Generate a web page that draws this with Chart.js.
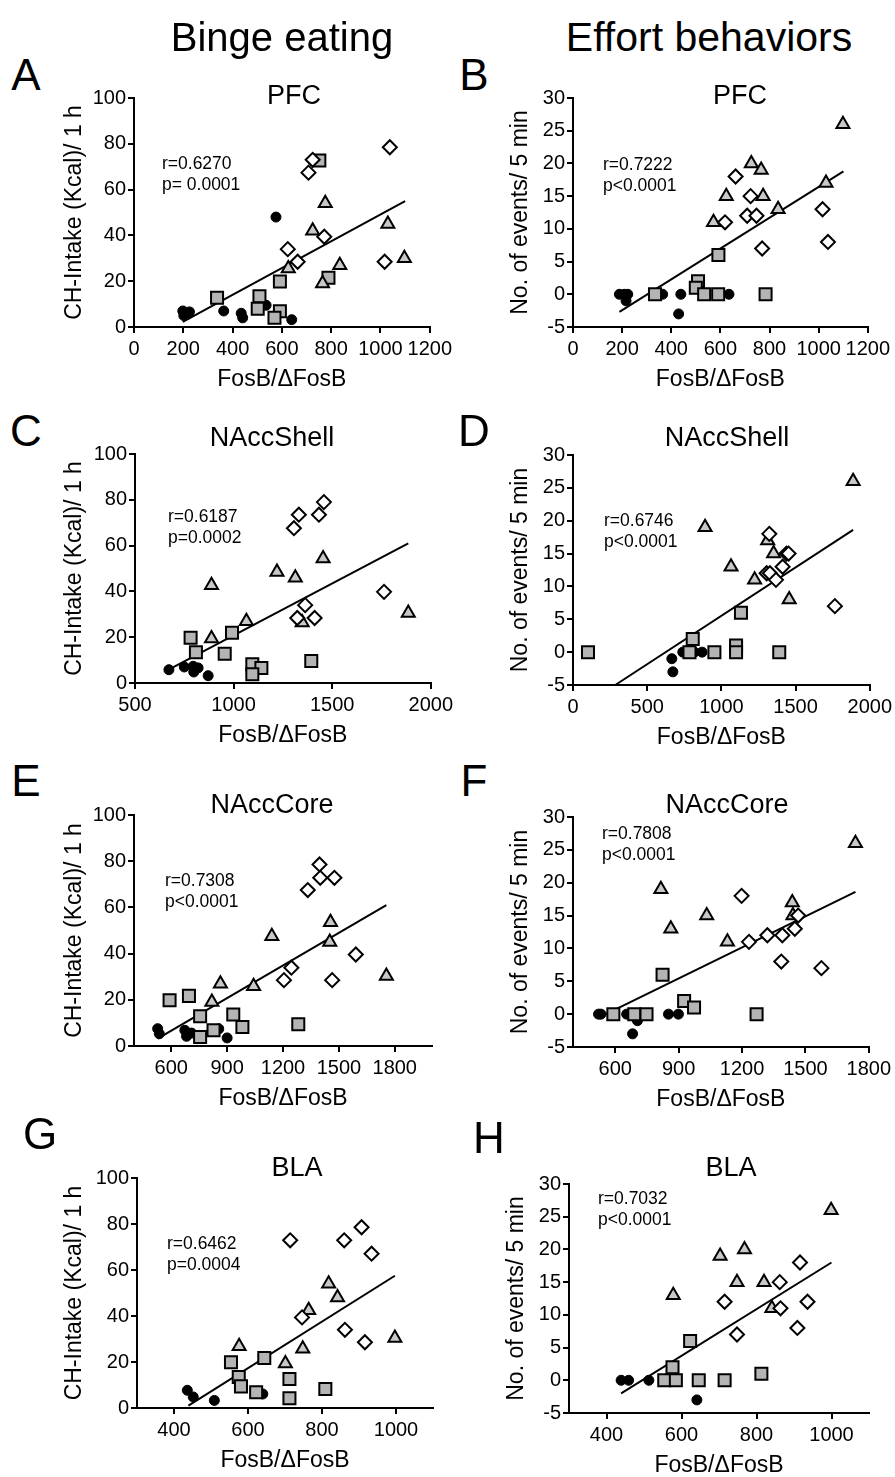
<!DOCTYPE html>
<html>
<head>
<meta charset="utf-8">
<script src="https://cdn.jsdelivr.net/npm/chart.js@4.4.1/dist/chart.umd.min.js"></script>
<style>
  html, body { margin: 0; padding: 0; background: #fff; }
  body { width: 895px; height: 1477px; position: relative; overflow: hidden; font-family: "Liberation Sans", Arial, sans-serif; color: #000; }
  .txt { position: absolute; white-space: nowrap; line-height: 1; }
  .c { transform: translate(-50%, -50%); }
  .l { transform: translate(0, -50%); }
  canvas { position: absolute; }
</style>
</head>
<body>
<script>
// ---------- tick labels ----------
const yTicksIntake = [0, 20, 40, 60, 80, 100];
const yTicksEvents = [-5, 0, 5, 10, 15, 20, 25, 30];
const xTicksPFC = [0, 200, 400, 600, 800, 1000, 1200];
const xTicksShellBinge = [500, 1000, 1500, 2000];
const xTicksShellEffort = [0, 500, 1000, 1500, 2000];
const xTicksCore = [600, 900, 1200, 1500, 1800];
const xTicksBLA = [400, 600, 800, 1000];

// ---------- A: PFC, binge ----------
const aCircX = [198, 202, 215, 225, 364, 435, 441, 536, 576, 640];
const aCircY = [7, 5, 5.5, 6.6, 7, 6, 4, 9.5, 48, 3.2];
const aSqX = [337, 509, 502, 592, 592, 570, 752, 789];
const aSqY = [12.8, 13.4, 8, 19.9, 6.9, 4, 72.7, 21.5];
const aTriX = [626, 725, 776, 765, 835, 1030, 1097];
const aTriY = [25.5, 42, 54, 19, 27, 45, 30];
const aDiaX = [624, 664, 708, 725, 772, 1017, 1038];
const aDiaY = [34, 28.5, 67.4, 73, 39.4, 28.5, 78.5];
const aLineX = [198, 1100];
const aLineY = [2.2, 55];

// ---------- B: PFC, effort ----------
const bCircX = [189, 209, 223, 216, 365, 439, 430, 635];
const bCircY = [0, 0, 0, -1, 0, 0, -3, 0];
const bSqX = [334, 592, 509, 500, 534, 591, 784];
const bSqY = [0, 6, 2, 1, 0, 0, 0];
const bTriX = [572, 624, 726, 766, 774, 835, 1030, 1099];
const bTriY = [11, 15, 20, 19, 15, 13, 17, 26];
const bDiaX = [619, 662, 723, 709, 747, 770, 1016, 1038];
const bDiaY = [11, 18, 15, 12, 12, 7, 13, 8];
const bLineX = [189, 1101];
const bLineY = [-2.7, 18.8];

// ---------- C: NAccShell, binge ----------
const cCircX = [672, 750, 795, 820, 798, 871];
const cCircY = [5.8, 7, 7.3, 6.6, 4.8, 3.2];
const cSqX = [782, 809, 955, 992, 1095, 1141, 1095, 1394];
const cSqY = [19.8, 13.4, 12.8, 21.9, 8.2, 6.6, 3.8, 9.6];
const cTriX = [888, 888, 1065, 1220, 1313, 1348, 1454, 1886];
const cTriY = [42.7, 19.4, 27, 48.5, 46, 26.4, 54.4, 30.6];
const cDiaX = [1306, 1331, 1433, 1458, 1363, 1323, 1411, 1763];
const cDiaY = [67.6, 73.5, 73.5, 79, 34, 28.4, 28.4, 39.8];
const cLineX = [690, 1886];
const cLineY = [6.7, 61];

// ---------- D: NAccShell, effort ----------
const dCircX = [666, 673, 740, 818, 870];
const dCircY = [-1, -3, 0, 0, 0];
const dSqX = [101, 785, 807, 953, 1099, 1099, 1132, 1390];
const dSqY = [0, 0, 2, 0, 1, 0, 6, 0];
const dTriX = [890, 1065, 1224, 1312, 1352, 1457, 1888];
const dTriY = [19, 13, 11, 17, 15, 8, 26];
const dDiaX = [1323, 1305, 1327, 1368, 1413, 1439, 1453, 1765];
const dDiaY = [18, 12, 12, 11, 13, 15, 15, 7];
const dLineX = [285, 1888];
const dLineY = [-5, 18.6];

// ---------- E: NAccCore, binge ----------
const eCircX = [527, 536, 673, 682, 709, 855, 900];
const eCircY = [7.5, 5.3, 6.8, 4.2, 5.6, 7.4, 3.5];
const eSqX = [591, 695, 755, 755, 827, 933, 982, 1282];
const eSqY = [19.8, 21.7, 12.9, 3.9, 6.8, 13.6, 8.2, 9.4];
const eTriX = [818, 864, 1042, 1140, 1451, 1455, 1755];
const eTriY = [19, 27, 25.9, 47.5, 45, 53.6, 30.3];
const eDiaX = [1205, 1245, 1333, 1396, 1400, 1476, 1464, 1591];
const eDiaY = [28.5, 33.9, 67.5, 78.6, 72.8, 72.8, 28.5, 39.6];
const eLineX = [527, 1755];
const eLineY = [3.2, 61];

// ---------- F: NAccCore, effort ----------
const fCircX = [521, 532, 654, 682, 705, 852, 899];
const fCircY = [0, 0, 0, -3, -1, 0, 0];
const fSqX = [591, 690, 748, 824, 926, 973, 1269];
const fSqY = [0, 0, 0, 6, 2, 1, 0];
const fTriX = [816, 863, 1033, 1131, 1438, 1441, 1737];
const fTriY = [19, 13, 15, 11, 17, 15, 26];
const fDiaX = [1198, 1233, 1320, 1391, 1386, 1450, 1466, 1576];
const fDiaY = [18, 11, 12, 12, 8, 13, 15, 7];
const fLineX = [524, 1737];
const fLineY = [-0.5, 18.6];

// ---------- G: BLA, binge ----------
const gCircX = [436, 452, 509, 640];
const gCircY = [7.7, 4.8, 3.3, 6.1];
const gSqX = [554, 575, 581, 622, 644, 712, 712, 809];
const gSqY = [19.9, 13.5, 9.4, 6.8, 21.7, 12.6, 4.2, 8.3];
const gTriX = [576, 701, 748, 764, 818, 842, 997];
const gTriY = [26.8, 19.3, 25.8, 42.5, 54, 48, 30.4];
const gDiaX = [714, 746, 860, 907, 934, 862, 916];
const gDiaY = [72.9, 39.4, 72.9, 78.6, 67.1, 34, 28.6];
const gLineX = [439, 997];
const gLineY = [1, 57.5];

// ---------- H: BLA, effort ----------
const hCircX = [439, 459, 513, 641];
const hCircY = [0, 0, 0, -3];
const hSqX = [554, 576, 585, 646, 715, 623, 813];
const hSqY = [0, 2, 0, 0, 0, 6, 1];
const hTriX = [578, 703, 768, 748, 820, 841, 999];
const hTriY = [13, 19, 20, 15, 15, 11, 26];
const hDiaX = [715, 748, 862, 864, 916, 909, 936];
const hDiaY = [12, 7, 15, 11, 18, 8, 12];
const hLineX = [439, 1000];
const hLineY = [-2, 18];

// ---------- texts ----------
const columnHeaders = ["Binge eating", "Effort behaviors"];
const regionTitles = ["PFC", "PFC", "NAccShell", "NAccShell", "NAccCore", "NAccCore", "BLA", "BLA"];
const panelLetters = ["A", "B", "C", "D", "E", "F", "G", "H"];
const rValues = ["r=0.6270", "r=0.7222", "r=0.6187", "r=0.6746", "r=0.7308", "r=0.7808", "r=0.6462", "r=0.7032"];
const pValues = ["p= 0.0001", "p<0.0001", "p=0.0002", "p<0.0001", "p<0.0001", "p<0.0001", "p=0.0004", "p<0.0001"];
const yTitleIntake = "CH-Intake (Kcal)/ 1 h";
const yTitleEvents = "No. of events/ 5 min";
const xTitle = "FosB/\u0394FosB";

const FONT = '"Liberation Sans", Arial, sans-serif';

function addText(str, x, y, size, cls) {
  const d = document.createElement('div');
  d.className = 'txt ' + cls;
  d.style.left = x + 'px';
  d.style.top = y + 'px';
  d.style.fontSize = size + 'px';
  d.textContent = str;
  document.body.appendChild(d);
}

function pts(xs, ys) { return xs.map((x, i) => ({ x: x, y: ys[i] })); }

// layout (positions only)
const panels = [
  { L: 134, R: 431, T: 98,   B: 327,  xmin: 0,   xmax: 1200, xt: xTicksPFC,         binge: true,
    d: [aCircX, aCircY, aSqX, aSqY, aTriX, aTriY, aDiaX, aDiaY, aLineX, aLineY],
    letter: [26, 75], title: [294, 95], rp: [162, 164] },
  { L: 573, R: 869, T: 98,   B: 327,  xmin: 0,   xmax: 1200, xt: xTicksPFC,         binge: false,
    d: [bCircX, bCircY, bSqX, bSqY, bTriX, bTriY, bDiaX, bDiaY, bLineX, bLineY],
    letter: [474, 75], title: [740, 95], rp: [603, 165] },
  { L: 135, R: 432, T: 454,  B: 683,  xmin: 500, xmax: 2000, xt: xTicksShellBinge,  binge: true,
    d: [cCircX, cCircY, cSqX, cSqY, cTriX, cTriY, cDiaX, cDiaY, cLineX, cLineY],
    letter: [26, 431], title: [272, 437], rp: [168, 517] },
  { L: 573, R: 871, T: 455,  B: 685,  xmin: 0,   xmax: 2000, xt: xTicksShellEffort, binge: false,
    d: [dCircX, dCircY, dSqX, dSqY, dTriX, dTriY, dDiaX, dDiaY, dLineX, dLineY],
    letter: [474, 431], title: [727, 437], rp: [604, 521] },
  { L: 134, R: 432, T: 815,  B: 1046, xmin: 400, xmax: 2000, xt: xTicksCore,        binge: true,
    d: [eCircX, eCircY, eSqX, eSqY, eTriX, eTriY, eDiaX, eDiaY, eLineX, eLineY],
    letter: [26, 781], title: [272, 804], rp: [165, 881] },
  { L: 573, R: 870, T: 817,  B: 1047, xmin: 400, xmax: 1800, xt: xTicksCore,        binge: false,
    d: [fCircX, fCircY, fSqX, fSqY, fTriX, fTriY, fDiaX, fDiaY, fLineX, fLineY],
    letter: [474, 781], title: [727, 804], rp: [602, 834] },
  { L: 137, R: 433, T: 1178, B: 1408, xmin: 300, xmax: 1100, xt: xTicksBLA,         binge: true,
    d: [gCircX, gCircY, gSqX, gSqY, gTriX, gTriY, gDiaX, gDiaY, gLineX, gLineY],
    letter: [40, 1134], title: [297, 1167], rp: [167, 1244] },
  { L: 569, R: 869, T: 1184, B: 1413, xmin: 300, xmax: 1100, xt: xTicksBLA,         binge: false,
    d: [hCircX, hCircY, hSqX, hSqY, hTriX, hTriY, hDiaX, hDiaY, hLineX, hLineY],
    letter: [489, 1138], title: [731, 1167], rp: [598, 1199] }
];

const YW = 80, XH = 80, PT = 15, PR = 25, TFS = 23, TLH = TFS * 1.2;

panels.forEach((p, i) => {
  const W = (p.R - p.L) + YW + PR;
  const H = (p.B - p.T) + PT + XH;
  const cv = document.createElement('canvas');
  cv.width = W; cv.height = H;
  cv.style.left = (p.L - YW) + 'px';
  cv.style.top = (p.T - PT) + 'px';
  cv.style.width = W + 'px'; cv.style.height = H + 'px';
  document.body.appendChild(cv);

  const yTitleCenter = p.binge ? 75 : (p.L - 52);
  const yPad = yTitleCenter - (p.L - YW) - TLH / 2;
  const xPad = XH - 53 - TLH / 2;
  const yt = p.binge ? yTicksIntake : yTicksEvents;
  const D = p.d;

  new Chart(cv, {
    type: 'scatter',
    data: {
      datasets: [
        { data: pts(D[8], D[9]), type: 'line', showLine: true, borderColor: '#000', borderWidth: 2,
          pointRadius: 0, fill: false, order: 5 },
        { data: pts(D[0], D[1]), pointStyle: 'circle', pointRadius: 5, backgroundColor: '#000',
          borderColor: '#000', borderWidth: 1, order: 4 },
        { data: pts(D[2], D[3]), pointStyle: 'rect', pointRadius: 8.5, backgroundColor: '#b4b4b4',
          borderColor: '#000', borderWidth: 2, order: 3 },
        { data: pts(D[4], D[5]), pointStyle: 'triangle', pointRadius: 7.5, backgroundColor: '#c8c8c8',
          borderColor: '#000', borderWidth: 2, order: 2 },
        { data: pts(D[6], D[7]), pointStyle: 'rectRot', pointRadius: 7, backgroundColor: '#ffffff',
          borderColor: '#000', borderWidth: 2, order: 1 }
      ]
    },
    options: {
      responsive: false,
      animation: false,
      devicePixelRatio: 1,
      clip: false,
      layout: { padding: { left: 0, right: PR, top: PT, bottom: 0 } },
      plugins: { legend: { display: false }, tooltip: { enabled: false }, title: { display: false } },
      elements: { point: { hoverRadius: 7 } },
      scales: {
        x: {
          type: 'linear', min: p.xmin, max: p.xmax,
          afterBuildTicks: (s) => { s.ticks = p.xt.map(v => ({ value: v })); },
          afterFit: (s) => { s.height = XH; },
          border: { display: true, color: '#000', width: 2 },
          grid: { display: true, drawOnChartArea: false, drawTicks: true, tickLength: 6, color: '#000', lineWidth: 2 },
          ticks: { color: '#000', font: { family: FONT, size: 20 }, padding: 4, autoSkip: false, maxRotation: 0, minRotation: 0,
                   callback: (v) => String(v) },
          title: { display: true, text: xTitle, color: '#000', font: { family: FONT, size: TFS }, padding: { top: 0, bottom: xPad } }
        },
        y: {
          type: 'linear', min: yt[0], max: yt[yt.length - 1],
          afterBuildTicks: (s) => { s.ticks = yt.map(v => ({ value: v })); },
          afterFit: (s) => { s.width = YW; },
          border: { display: true, color: '#000', width: 2 },
          grid: { display: true, drawOnChartArea: false, drawTicks: true, tickLength: 6, color: '#000', lineWidth: 2 },
          ticks: { color: '#000', font: { family: FONT, size: 20 }, padding: 2, autoSkip: false,
                   callback: (v) => String(v) },
          title: { display: true, text: p.binge ? yTitleIntake : yTitleEvents, color: '#000',
                   font: { family: FONT, size: TFS }, padding: { top: yPad, bottom: 0 } }
        }
      }
    }
  });

  addText(panelLetters[i], p.letter[0], p.letter[1], 44, 'c');
  addText(regionTitles[i], p.title[0], p.title[1], 27, 'c');
  addText(rValues[i], p.rp[0], p.rp[1], 17.5, 'l');
  addText(pValues[i], p.rp[0], p.rp[1] + 21, 17.5, 'l');
});

addText(columnHeaders[0], 282, 37, 40, 'c');
addText(columnHeaders[1], 709, 37, 41, 'c');
</script>
</body>
</html>
